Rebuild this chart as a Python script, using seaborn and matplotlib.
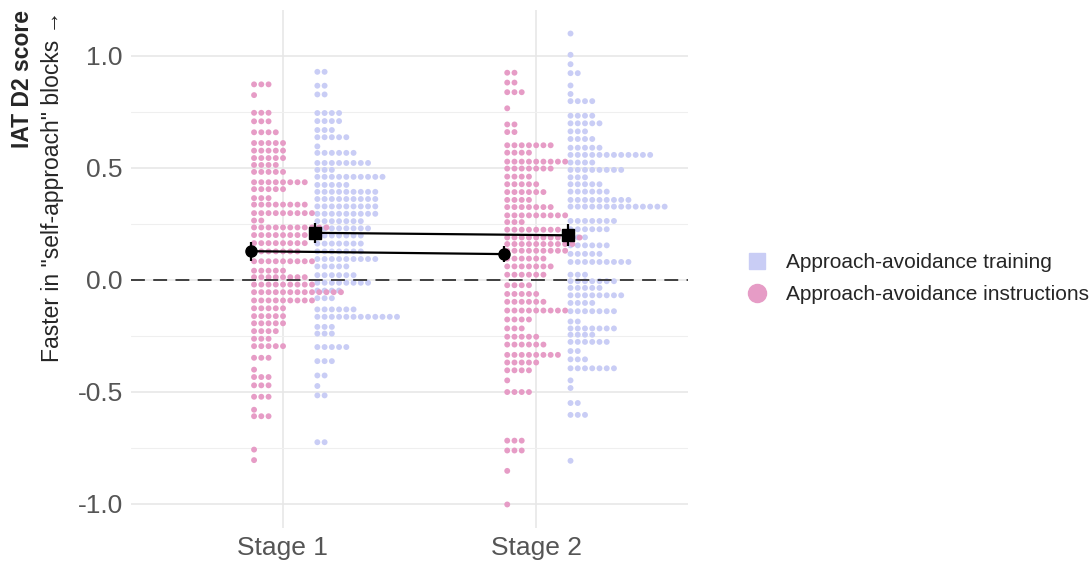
import pandas as pd
import matplotlib
matplotlib.use("Agg")
import matplotlib.pyplot as plt
import seaborn as sns
from matplotlib.lines import Line2D
from matplotlib.ticker import MultipleLocator

sns.set_theme(style="whitegrid")
plt.rcParams["font.family"] = ["Liberation Sans", "DejaVu Sans"]
plt.rcParams["lines.scale_dashes"] = False

# dot rows: bin centre (D2 score) and number of dots in that row
s1_instr_y = [0.872, 0.824, 0.745, 0.707, 0.658, 0.610, 0.576, 0.543, 0.512, 0.481,
              0.435, 0.404, 0.364, 0.335, 0.297, 0.264, 0.233, 0.199, 0.163, 0.126,
              0.082, 0.040, 0.011, -0.022, -0.056, -0.093, -0.128, -0.163, -0.195, -0.230,
              -0.264, -0.297, -0.349, -0.402, -0.435, -0.472, -0.523, -0.581, -0.610,
              -0.759, -0.806]
s1_instr_n = [3, 1, 3, 3, 4, 5, 5, 5, 4, 5,
              8, 5, 3, 8, 9, 2, 11, 10, 8, 7,
              9, 5, 8, 9, 13, 9, 5, 5, 5, 4,
              3, 5, 3, 1, 3, 3, 3, 1, 3,
              1, 1]

s1_train_y = [0.928, 0.866, 0.827, 0.744, 0.708, 0.668, 0.636, 0.595, 0.566, 0.521,
              0.490, 0.459, 0.423, 0.392, 0.360, 0.327, 0.294, 0.261, 0.229, 0.197,
              0.161, 0.126, 0.092, 0.059, 0.020, -0.014, -0.049, -0.083, -0.133, -0.166,
              -0.211, -0.241, -0.301, -0.364, -0.428, -0.475, -0.517, -0.726]
s1_train_n = [2, 2, 2, 4, 4, 3, 5, 1, 6, 8,
              3, 10, 5, 9, 9, 9, 9, 7, 8, 7,
              7, 7, 9, 5, 6, 8, 4, 3, 6, 12,
              3, 3, 5, 3, 2, 1, 2, 2]

s2_instr_y = [0.924, 0.880, 0.837, 0.765, 0.693, 0.659, 0.600, 0.567, 0.527, 0.496,
              0.460, 0.426, 0.391, 0.356, 0.324, 0.287, 0.257, 0.223, 0.188, 0.159,
              0.129, 0.094, 0.059, 0.022, -0.025, -0.064, -0.099, -0.138, -0.178, -0.218,
              -0.255, -0.290, -0.336, -0.370, -0.405, -0.450, -0.502, -0.719, -0.763,
              -0.854, -1.004]
s2_instr_n = [2, 2, 3, 1, 2, 2, 7, 4, 9, 7,
              4, 5, 6, 4, 7, 9, 3, 8, 11, 10,
              9, 6, 7, 6, 4, 5, 6, 9, 4, 3,
              5, 6, 8, 5, 4, 1, 4, 3, 3,
              1, 1]

s2_train_y = [1.099, 1.004, 0.962, 0.922, 0.867, 0.829, 0.797, 0.732, 0.698, 0.662,
              0.628, 0.589, 0.557, 0.523, 0.490, 0.457, 0.426, 0.393, 0.356, 0.326,
              0.262, 0.225, 0.189, 0.153, 0.115, 0.079, 0.022, -0.007, -0.037, -0.070,
              -0.104, -0.141, -0.187, -0.218, -0.246, -0.278, -0.319, -0.356, -0.396,
              -0.450, -0.484, -0.551, -0.604, -0.809]
s2_train_n = [1, 1, 1, 2, 1, 1, 4, 4, 5, 3,
              4, 5, 12, 4, 8, 3, 5, 6, 9, 14,
              7, 6, 3, 6, 5, 9, 3, 7, 5, 8,
              4, 7, 2, 7, 4, 6, 2, 3, 7,
              1, 1, 2, 3, 1]

stages = ["Stage 1", "Stage 2"]
conditions = ["Approach-avoidance training", "Approach-avoidance instructions"]
instr_mean = [0.127, 0.114]
instr_err = [0.043, 0.037]
train_mean = [0.209, 0.198]
train_err = [0.044, 0.050]

PINK = "#E69CC6"
LAVENDER = "#C9CDF5"
DODGE = 0.125
DOT_STEP = 0.0286
DOT_START = 0.011

# expand rows into individual dots, stacked to the right of each dodge position
records = []
groups = [
    (1, conditions[0], s1_train_y, s1_train_n, DODGE),
    (2, conditions[0], s2_train_y, s2_train_n, DODGE),
    (1, conditions[1], s1_instr_y, s1_instr_n, -DODGE),
    (2, conditions[1], s2_instr_y, s2_instr_n, -DODGE),
]
for stage, cond, ys, ns, dodge in groups:
    for y, n in zip(ys, ns):
        for i in range(n):
            records.append({"x": stage + dodge + DOT_START + i * DOT_STEP, "y": y, "condition": cond})
dots = pd.DataFrame(records)

fig = plt.figure(figsize=(10.91, 5.69), dpi=100)
ax = fig.add_axes([0.1201, 0.0721, 0.5105, 0.9103])

sns.scatterplot(data=dots, x="x", y="y", hue="condition",
                palette={conditions[0]: LAVENDER, conditions[1]: PINK},
                s=18, linewidth=0, legend=False, ax=ax, zorder=3)

ax.axhline(0, color="#333333", lw=1.3, ls=(0, (10, 6)), zorder=4)

xs_instr = [1 - DODGE, 2 - DODGE]
xs_train = [1 + DODGE, 2 + DODGE]
ax.plot(xs_instr, instr_mean, color="black", lw=1.6, zorder=5)
ax.plot(xs_train, train_mean, color="black", lw=1.6, zorder=5)
ax.errorbar(xs_instr, instr_mean, yerr=instr_err, fmt="o", color="black",
            ms=8, elinewidth=1.6, capsize=0, zorder=6)
ax.errorbar(xs_train, train_mean, yerr=train_err, fmt="s", color="black",
            ms=8, elinewidth=1.6, capsize=0, zorder=6)

ax.set_xlim(0.4, 2.6)
ax.set_ylim(-1.109, 1.204)
ax.set_xticks([1, 2])
ax.set_xticklabels(stages)
ax.set_yticks([-1.0, -0.5, 0.0, 0.5, 1.0])
ax.set_yticklabels(["-1.0", "-0.5", "0.0", "0.5", "1.0"])
ax.yaxis.set_minor_locator(MultipleLocator(0.25))
ax.grid(which="major", color="#E6E6E6", lw=1.1)
ax.grid(which="minor", axis="y", color="#EFEFEF", lw=0.8)
ax.set_axisbelow(True)
for sp in ax.spines.values():
    sp.set_visible(False)
ax.tick_params(axis="both", which="both", length=0, labelsize=19, labelcolor="#555555", pad=6)
ax.set_xlabel("")
ax.set_ylabel("")

fig.text(23 / 1091, 1 - 10 / 569, "IAT D2 score", rotation=90, ha="center", va="top",
         fontsize=16.5, fontweight="bold")
fig.text(53 / 1091, 1 - 10 / 569, 'Faster in "self-approach" blocks \u2192', rotation=90,
         ha="center", va="top", fontsize=16.5)

handles = [
    Line2D([], [], marker="s", ls="none", color=LAVENDER, ms=12),
    Line2D([], [], marker="o", ls="none", color=PINK, ms=13),
]
fig.legend(handles, conditions, loc="center left", bbox_to_anchor=(0.682, 0.51),
           frameon=False, fontsize=15, handlelength=1.2, handletextpad=0.8,
           labelspacing=0.63, borderpad=0, borderaxespad=0)

fig.savefig("out.png", dpi=100)
